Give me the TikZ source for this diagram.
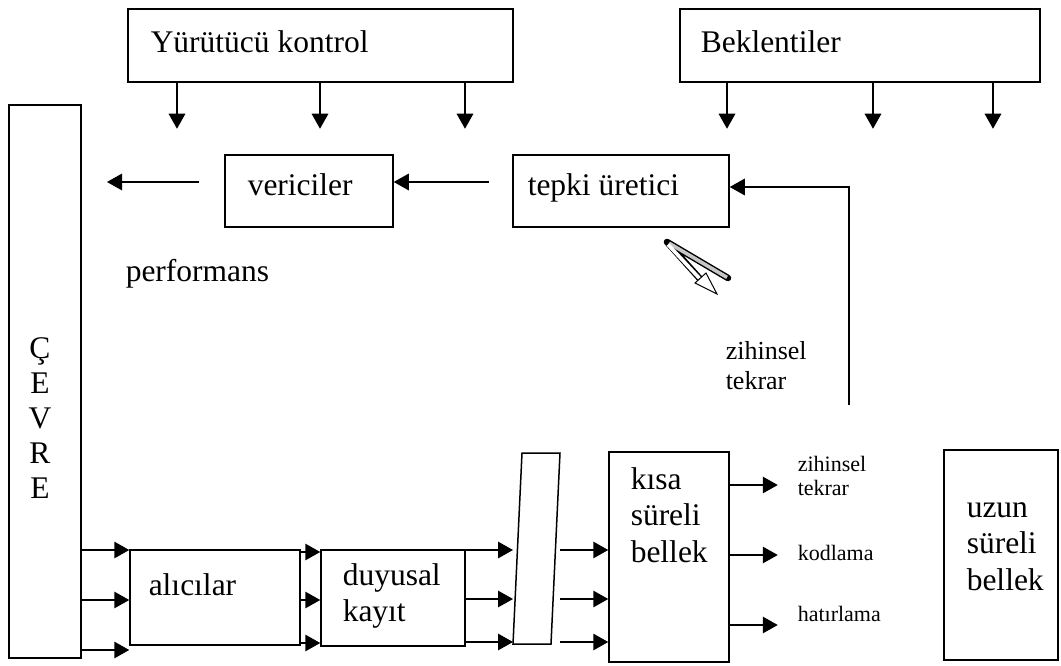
\documentclass[tikz,border=0pt]{standalone}
\usepackage{fontspec}
\setmainfont{Liberation Serif}
\usepackage{tikz}
\usetikzlibrary{shapes, arrows.meta, positioning}

\begin{document}
\begin{tikzpicture}[x=1pt, y=-1pt, line width=1.5pt,
    box/.style={draw, rectangle, inner sep=0pt},
    arr/.style={-{Triangle[length=15pt, width=16.5pt]}},
    txt/.style={anchor=north west, inner sep=0pt, align=left,
        font=\fontsize{31.5}{36.5}\selectfont, execute at begin node=\strut},
    mid/.style={txt, font=\fontsize{26}{30}\selectfont},
    small/.style={txt, font=\fontsize{22}{24}\selectfont}]
\useasboundingbox (0,0) rectangle (1061,666);

% boxes
\node[box, minimum width=385pt, minimum height=73pt] (yk) at (320.5,45.5) {};
\node[box, minimum width=360pt, minimum height=73pt] (bek) at (860,45.5) {};
\node[box, minimum width=72pt, minimum height=553pt] (cevre) at (45,381.5) {};
\node[box, minimum width=168pt, minimum height=72pt] (veri) at (309,191) {};
\node[box, minimum width=216pt, minimum height=72pt] (tepki) at (621,191) {};
\node[box, minimum width=170pt, minimum height=95pt] (alici) at (215,597.5) {};
\node[box, minimum width=144pt, minimum height=96pt] (duyu) at (393,598) {};
\node[box, minimum width=120pt, minimum height=210pt] (kisa) at (669,557) {};
\node[box, minimum width=114pt, minimum height=210pt] (uzun) at (1001,555) {};

\coordinate (sl-tl) at (522,453);
\coordinate (sl-tr) at (560,453);
\coordinate (sl-br) at (551,644);
\coordinate (sl-bl) at (513,644);
\draw (sl-tl) -- (sl-tr) -- (sl-br) -- (sl-bl) -- cycle;

% texts
\node[txt] (yk-t) at (150,26.5) {Yürütücü kontrol};
\node[txt] (bek-t) at (700,26.5) {Beklentiler};
\node[txt] (veri-t) at (247,169.5) {vericiler};
\node[txt] (tepki-t) at (527,169.5) {tepki üretici};
\node[txt] (perf) at (125,255.5) {performans};
\node[txt] (alici-t) at (148,569.5) {alıcılar};
\node[txt] (duyu-t) at (342,562.5) {duyusal\\kayıt};
\node[txt] (kisa-t) at (630,466.5) {kısa\\süreli\\bellek};
\node[txt] (uzun-t) at (966,501.5) {uzun\\süreli\\bellek};
\node[txt, anchor=north, align=center, font=\fontsize{31.5}{35}\selectfont] (cevre-t) at (40,336.5) {Ç\\E\\V\\R\\E};
\node[mid] (tekrar-a) at (725,341) {zihinsel\\tekrar};
\node[small] (tekrar-b) at (797,455.2) {zihinsel\\tekrar};
\node[small] (kod) at (797,543.2) {kodlama};
\node[small] (hatir) at (797,604.2) {hatırlama};

% arrows
\foreach \x in {177,320,465} \draw[arr] (yk.south -| \x,0) -- ++(0,46);
\foreach \x in {727,873,993} \draw[arr] (bek.south -| \x,0) -- ++(0,46);

\coordinate (out) at (107,182);
\draw[arr] ([shift={(-25,-9)}]veri.west) -- (out);
\draw[arr] ([shift={(-23,-9)}]tepki.west) -- ([shift={(0,-9)}]veri.east);

\coordinate (fb) at (849,405);
\draw[arr] (fb) |- ([shift={(0,-4)}]tepki.east);

\foreach \y in {550,600,650} \draw[arr] (cevre.east |- 0,\y) -- (alici.west |- 0,\y);
\foreach \y in {552,600,643} \draw[arr] (alici.east |- 0,\y) -- (duyu.west |- 0,\y);
\foreach \y in {550,599,642} \draw[arr] (duyu.east |- 0,\y) -- (sl-bl |- 0,\y);
\foreach \y in {550,599,642} \draw[arr] (sl-tr |- 0,\y) -- (kisa.west |- 0,\y);
\foreach \y in {485,555,625} \draw[arr] (kisa.east |- 0,\y) -- ++(48,0);

% hook arrow
\draw[line width=6.5pt, line cap=round, line join=round] (728,278) -- (667,242) -- (701,280);
\draw[line width=3.6pt, gray!45] (727,277.4) -- (669,243.2);
\draw[line width=3.6pt, white] (668,244.5) -- (701,280);
\draw[line width=1pt, fill=white] (695,283) -- (717,294) -- (706,273) -- cycle;
\end{tikzpicture}
\end{document}
